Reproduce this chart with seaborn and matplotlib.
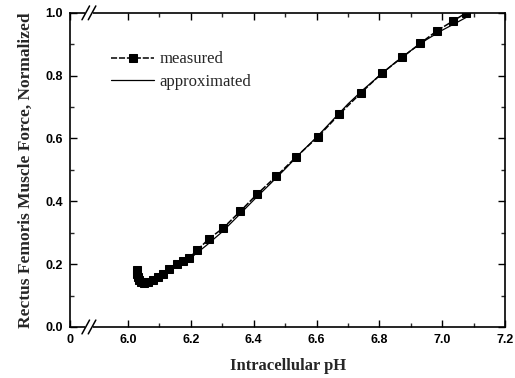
import matplotlib
matplotlib.use("Agg")
import matplotlib.pyplot as plt
import seaborn as sns
import pandas as pd
import numpy as np
from matplotlib.transforms import blended_transform_factory

# ---- data ----
measured_ph = [6.028, 6.029, 6.031, 6.035, 6.042, 6.052, 6.065, 6.08, 6.095, 6.112,
               6.132, 6.155, 6.175, 6.195, 6.221, 6.257, 6.303, 6.357, 6.41, 6.472,
               6.536, 6.604, 6.672, 6.74, 6.808, 6.872, 6.93, 6.983, 7.034, 7.076]
measured_force = [0.181, 0.17, 0.16, 0.151, 0.144, 0.14, 0.142, 0.149, 0.158, 0.17,
                  0.186, 0.2, 0.21, 0.22, 0.245, 0.28, 0.315, 0.368, 0.422, 0.48,
                  0.542, 0.605, 0.677, 0.744, 0.808, 0.858, 0.903, 0.943, 0.974, 1.0]
approx_ph = [6.03, 6.04, 6.055, 6.075, 6.1, 6.15, 6.2, 6.25, 6.3, 6.35, 6.4, 6.45,
             6.5, 6.55, 6.6, 6.65, 6.7, 6.75, 6.8, 6.85, 6.9, 6.95, 7.0, 7.04, 7.075]
approx_force = [0.165, 0.148, 0.14, 0.143, 0.155, 0.19, 0.22, 0.26, 0.303, 0.353,
                0.404, 0.453, 0.503, 0.555, 0.604, 0.657, 0.71, 0.757, 0.8, 0.842,
                0.88, 0.915, 0.945, 0.966, 0.985]
x_tick_labels = ["0", "6.0", "6.2", "6.4", "6.6", "6.8", "7.0", "7.2"]
y_tick_labels = ["0.0", "0.2", "0.4", "0.6", "0.8", "1.0"]

# ---- layout constants ----
X_ZERO = 5.816   # where the broken axis puts "0"
X_BREAK = 5.876

df_m = pd.DataFrame({"pH": measured_ph, "force": measured_force})
df_a = pd.DataFrame({"pH": approx_ph, "force": approx_force})

sns.set_style("ticks")
plt.rcParams["font.family"] = ["Liberation Sans", "DejaVu Sans"]

fig = plt.figure(figsize=(5.15, 3.78), dpi=100)
ax = fig.add_axes([0.136, 0.135, 0.845, 0.831])

sns.lineplot(data=df_m, x="pH", y="force", ax=ax, color="black", lw=1.1,
             linestyle=(0, (4, 1.2)), marker="s", markersize=5.8, markeredgecolor="black",
             label="measured", sort=False)
sns.lineplot(data=df_a, x="pH", y="force", ax=ax, color="black", lw=0.9,
             label="approximated", sort=False)

ax.set_xlim(X_ZERO, 7.2)
ax.set_ylim(0, 1.0)
xt = [X_ZERO] + [6.0 + 0.2 * i for i in range(len(x_tick_labels) - 1)]
ax.set_xticks(xt)
ax.set_xticklabels(x_tick_labels)
ax.set_xticks([6.1 + 0.2 * i for i in range(6)], minor=True)
ax.set_yticks([0.2 * i for i in range(len(y_tick_labels))])
ax.set_yticklabels(y_tick_labels)
ax.set_yticks([0.1, 0.3, 0.5, 0.7, 0.9], minor=True)

ax.tick_params(axis="both", which="major", direction="in", length=5, width=1,
               top=True, right=True, labelsize=9, pad=5, colors="black")
ax.tick_params(axis="both", which="minor", direction="in", length=3, width=1,
               top=True, right=True)
for lab in ax.get_xticklabels() + ax.get_yticklabels():
    lab.set_fontweight("bold")

for s in ax.spines.values():
    s.set_linewidth(1.2)
    s.set_color("black")

ax.set_xlabel("Intracellular pH", family=["Liberation Serif"], fontweight="bold",
              fontsize=12, labelpad=9)
ax.set_ylabel("Rectus Femoris Muscle Force, Normalized", family=["Liberation Serif"],
              fontweight="bold", fontsize=12.5, labelpad=8)

# axis break marks
tr = blended_transform_factory(ax.transData, ax.transAxes)
for yb in (0.0, 1.0):
    ax.add_patch(plt.Rectangle((X_BREAK - 0.012, yb - 0.01), 0.024, 0.02,
                               transform=tr, facecolor="white", edgecolor="none",
                               clip_on=False, zorder=5))
    for dx in (-0.01, 0.01):
        ax.plot([X_BREAK + dx - 0.012, X_BREAK + dx + 0.012], [yb - 0.022, yb + 0.022],
                transform=tr, color="black", lw=1.1, clip_on=False, zorder=6)

leg = ax.legend(loc="upper left", bbox_to_anchor=(0.06, 0.925), frameon=False,
                prop={"family": "Liberation Serif", "size": 12},
                handlelength=2.6, handletextpad=0.3, labelspacing=0.4)

fig.savefig("out.png", dpi=100)
